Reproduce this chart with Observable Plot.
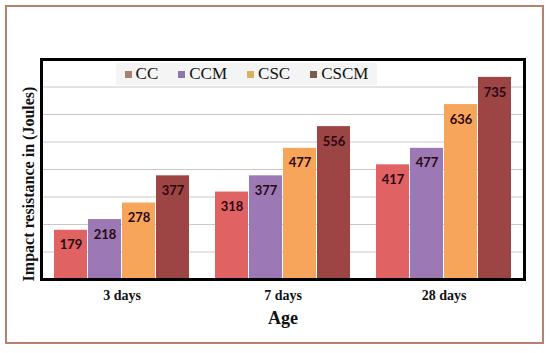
<!DOCTYPE html>
<html><head><meta charset="utf-8">
<script src="https://cdn.jsdelivr.net/npm/d3@7"></script>
<script src="https://cdn.jsdelivr.net/npm/@observablehq/plot@0.6"></script>
<style>
body{margin:0;background:#fff;}
#wrap{position:relative;width:550px;height:353px;overflow:hidden;font-family:"Liberation Serif",serif;}
#border{position:absolute;left:5px;top:5px;width:535px;height:335px;border:2px solid #b8806e;}
#chart{position:absolute;left:0;top:0;}
#legend{position:absolute;left:116px;top:63px;width:261px;height:22px;background:#f4f4f4;display:flex;align-items:center;justify-content:center;gap:20px;font-size:17px;color:#111;}
#legend span.sw{display:inline-block;width:7px;height:7px;margin-right:4px;vertical-align:middle;position:relative;top:-1px;}
#ytitle{position:absolute;left:29px;top:184px;transform:translate(-50%,-50%) rotate(-90deg);white-space:nowrap;font-weight:bold;font-size:16px;color:#111;}
#xtitle{position:absolute;left:283px;top:318px;transform:translate(-50%,-50%);font-weight:bold;font-size:18px;color:#111;}
</style></head><body>
<div id="wrap"><div id="border"></div><div id="chart"></div><div id="legend"></div>
<div id="ytitle">Impact resistance in (Joules)</div><div id="xtitle">Age</div></div>
<script>
const ages = ["3 days", "7 days", "28 days"];
const mixes = ["CC", "CCM", "CSC", "CSCM"];
const CC = [179, 318, 417];
const CCM = [218, 377, 477];
const CSC = [278, 477, 636];
const CSCM = [377, 556, 735];
const barColors = ["#e06262", "#9c79b5", "#f6a55a", "#9d4545"];
const legendColors = ["#a8826e", "#8c78b0", "#dcb062", "#7a5a48"];
const gridValues = [100, 200, 300, 400, 500, 600, 700];

const series = {CC, CCM, CSC, CSCM};
const table = [];
ages.forEach((a, i) => mixes.forEach(m => table.push({age: a, mix: m, value: series[m][i]})));

const plot = Plot.plot({
  width: 550, height: 353,
  marginLeft: 40, marginRight: 25, marginTop: 59, marginBottom: 74,
  style: {fontFamily: "Liberation Serif", fontSize: "14px", fontWeight: "bold", color: "#111", background: "transparent"},
  fx: {domain: ages, padding: 0, label: null, tickSize: 0, tickPadding: 11, axis: "bottom"},
  x: {domain: mixes, axis: null, paddingInner: 0.04, paddingOuter: 0.335},
  y: {domain: [0, 800], axis: null},
  color: {domain: mixes, range: barColors},
  marks: [
    Plot.ruleY(gridValues, {stroke: "#c8c8c8", strokeWidth: 1}),
    Plot.barY(table, {fx: "age", x: "mix", y: "value", fill: "mix"}),
    Plot.text(table, {fx: "age", x: "mix", y: "value", text: d => String(d.value), dy: 15,
      fill: "#2a0812", fontWeight: "bold", fontSize: 13, fontFamily: "Lato"}),
    Plot.frame({stroke: "#000", strokeWidth: 3, facet: "super"})
  ]
});
document.getElementById("chart").appendChild(plot);

const leg = document.getElementById("legend");
mixes.forEach((m, i) => {
  const item = document.createElement("div");
  item.innerHTML = `<span class="sw" style="background:${legendColors[i]}"></span>${m}`;
  leg.appendChild(item);
});
</script>
</body></html>
